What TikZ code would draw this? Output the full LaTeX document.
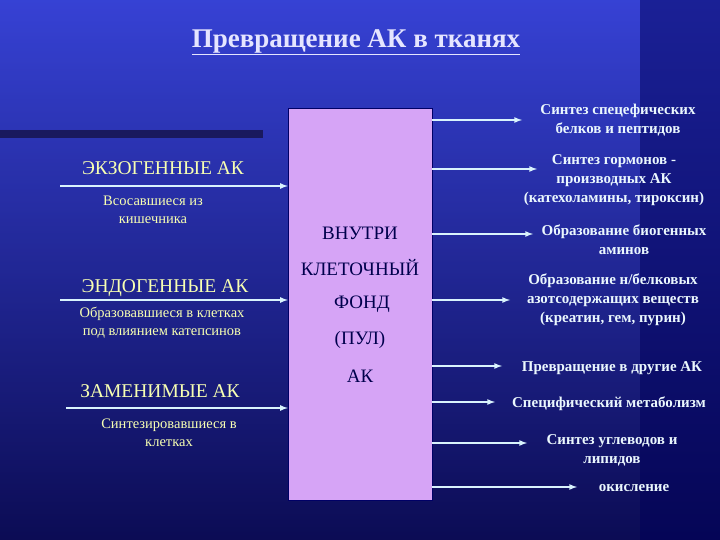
\documentclass[tikz,border=0pt]{standalone}
\usepackage{fontspec}
\setmainfont{Liberation Serif}
\definecolor{boxc}{RGB}{214,164,246}
\definecolor{bgl}{RGB}{40,110,235}
\definecolor{bgr}{RGB}{20,20,90}
\begin{document}
\begin{tikzpicture}[x=1pt,y=-1pt,
 lh/.style={text=green!10!yellow!30!white,font=\fontsize{19.5}{22}\selectfont},
 ls/.style={text=green!10!yellow!30!white,font=\fontsize{14.5}{18}\selectfont,align=center},
 rt/.style={text=white!92!cyan,font=\bfseries\fontsize{15}{19}\selectfont,align=center},
 bx/.style={text=blue!30!black,font=\fontsize{19}{22}\selectfont},
 arr/.style={draw=white!85!cyan,line width=1.6pt,-latex}]
\useasboundingbox (0,0) rectangle (720,540);
\shade[left color=bgl,right color=bgr,shading angle=0] (0,0) rectangle (720,540);
\shade[top color=violet!60!blue,bottom color=blue!30!black,opacity=0.4] (0,0) rectangle (720,540);
\fill[blue!35!black,opacity=0.5] (640,0) rectangle (720,540);
\fill[blue!30!black!90] (0,130) rectangle (263,138);
\node[text=white!90!blue,font=\bfseries\fontsize{27}{30}\selectfont] (title) at (356,42) {\underline{Превращение АК в тканях}};
\node[draw=blue!40!black,fill=boxc,minimum width=144,minimum height=392,inner sep=0] (box) at (360,304) {};
\node[bx] (b1) at (360,233) {ВНУТРИ};
\node[bx] (b2) at (360,268) {КЛЕТОЧНЫЙ};
\node[bx] (b3) at (362,304) {ФОНД};
\node[bx] (b4) at (360,340) {(ПУЛ)};
\node[bx] (b5) at (360,376) {АК};
\node[lh] (h1) at (163,168) {ЭКЗОГЕННЫЕ АК};
\node[ls] (s1) at (153,210) {Всосавшиеся из\\кишечника};
\node[lh] (h2) at (165,288) {ЭНДОГЕННЫЕ АК};
\node[ls] (s2) at (162,323) {Образовавшиеся в клетках\\под влиянием катепсинов};
\node[lh] (h3) at (160,391) {ЗАМЕНИМЫЕ АК};
\node[ls] (s3) at (169,433) {Синтезировавшиеся в\\клетках};
\coordinate (l1) at (60,186); \coordinate (l2) at (60,300); \coordinate (l3) at (66,408);
\draw[arr] (l1) -- (box.west |- l1);
\draw[arr] (l2) -- (box.west |- l2);
\draw[arr] (l3) -- (box.west |- l3);
\node[rt] (r1) at (618,120) {Синтез спецефических\\белков и пептидов};
\node[rt] (r2) at (614,180) {Синтез гормонов -\\производных АК\\(катехоламины, тироксин)};
\node[rt] (r3) at (624,240) {Образование биогенных\\аминов};
\node[rt] (r4) at (613,300) {Образование н/белковых\\азотсодержащих веществ\\(креатин, гем, пурин)};
\node[rt] (r5) at (612,368) {Превращение в другие АК};
\node[rt] (r6) at (609,404) {Специфический метаболизм};
\node[rt] (r7) at (612,450) {Синтез углеводов и\\липидов};
\node[rt] (r8) at (634,488) {окисление};
\foreach \y/\e in {120/522,169/537,234/533,300/510,366/502,402/495,443/527,487/577}{
 \coordinate (s) at (box.east |- 0,\y); \coordinate (e) at (\e,\y);
 \draw[arr] (s) -- (e);}
\end{tikzpicture}
\end{document}
